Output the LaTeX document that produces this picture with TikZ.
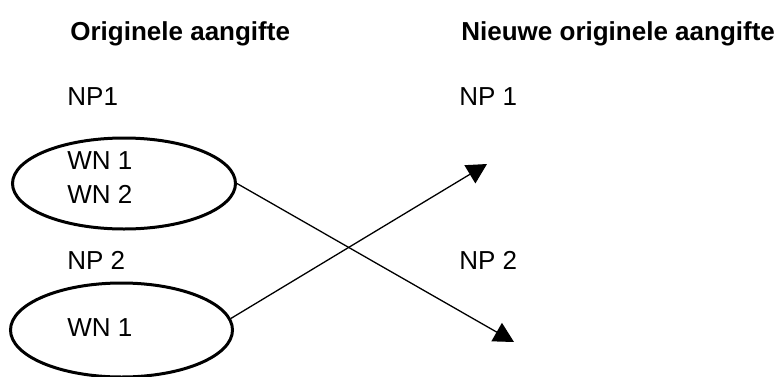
\documentclass[tikz,border=0pt]{standalone}
\usepackage{fontspec}
\setmainfont{Liberation Sans}
\usetikzlibrary{arrows.meta,shapes.geometric}
\begin{document}
\begin{tikzpicture}[x=0.5pt,y=-0.5pt,
    lbl/.style={anchor=base west,inner sep=0pt,font=\fontsize{13}{16}\selectfont},
    kop/.style={lbl,font=\fontsize{13}{16}\selectfont\bfseries},
    ovaal/.style={draw,ellipse,line width=1.5pt,inner sep=0pt,minimum width=111.5pt,minimum height=45.5pt}]
  \useasboundingbox (0,0) rectangle (782,376);
  \draw
    (70,40) node[kop] (h1){Originele aangifte}
    (461,40) node[kop] (h2){Nieuwe originele aangifte}
    (67,105) node[lbl] (np1l){NP1}
    (459,105) node[lbl] (np1r){NP 1}
    (67,269) node[lbl] (np2l){NP 2}
    (459,269) node[lbl] (np2r){NP 2}
    (67,169) node[lbl] (wn1){WN 1}
    (67,203) node[lbl] (wn2){WN 2}
    (67,336) node[lbl] (wn3){WN 1};
  \node[ovaal] (e1) at (124,183.5) {};
  \node[ovaal,minimum width=111pt,minimum height=47pt] (e2) at (121.5,330) {};
  \coordinate (t1) at (487,164);
  \coordinate (t2) at (514,342);
  \begin{scope}[-{Triangle[length=10pt,width=10.5pt]},line width=0.65pt]
    \draw (e1.east) to (t2);
    \draw (e2.6) to (t1);
  \end{scope}
\end{tikzpicture}
\end{document}
